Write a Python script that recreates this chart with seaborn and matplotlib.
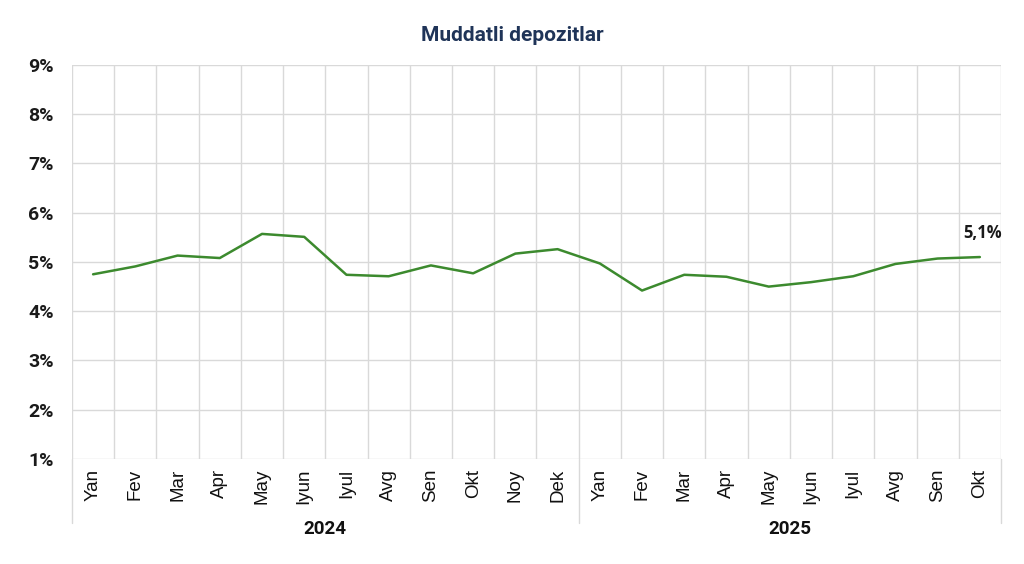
import matplotlib
matplotlib.use("Agg")
import matplotlib.pyplot as plt
import matplotlib.transforms as mtransforms
import seaborn as sns
import pandas as pd

# Term deposit rates, monthly
months = ["Yan", "Fev", "Mar", "Apr", "May", "Iyun", "Iyul", "Avg", "Sen", "Okt", "Noy", "Dek",
          "Yan", "Fev", "Mar", "Apr", "May", "Iyun", "Iyul", "Avg", "Sen", "Okt"]
years = ["2024", "2025"]
year_counts = [12, 10]
rates = [4.75, 4.91, 5.13, 5.08, 5.57, 5.51, 4.74, 4.71, 4.93, 4.77, 5.17, 5.26,
         4.97, 4.42, 4.74, 4.70, 4.50, 4.59, 4.71, 4.96, 5.07, 5.10]
last_label = "5,1%"

df = pd.DataFrame({"idx": range(len(rates)), "rate": rates})

sns.set_style("white")
plt.rcParams["font.family"] = ["Roboto", "DejaVu Sans"]

fig = plt.figure(figsize=(10.24, 5.64), dpi=100)
ax = fig.add_axes([0.0703, 0.1862, 0.9072, 0.6986])

grid_c = "#d9d9d9"
sns.lineplot(data=df, x="idx", y="rate", ax=ax, color="#3c8a2e", linewidth=1.8)

ax.set_xlim(-0.5, len(rates) - 0.5)
ax.set_ylim(1, 9)
ax.set_yticks(range(1, 10))
ax.set_yticklabels([f"{v}%" for v in range(1, 10)], fontsize=14, fontweight="bold", color="#1a1a1a")
ax.set_xticks(range(len(months)))
ax.set_xticklabels(months, rotation=90, fontsize=13.5, family="Liberation Sans", color="#111111")
ax.tick_params(axis="x", length=0, pad=7)
ax.tick_params(axis="y", length=5, color=grid_c, pad=8)

# grid: horizontal at each percent, vertical between months
for v in range(1, 10):
    ax.axhline(v, color=grid_c, linewidth=1, zorder=0)
for b in range(len(months) + 1):
    ax.axvline(b - 0.5, color=grid_c, linewidth=1, zorder=0)
for s in ax.spines.values():
    s.set_visible(False)

ax.set_xlabel("")
ax.set_ylabel("")

# year group separators and labels below axis
trans = mtransforms.blended_transform_factory(ax.transData, ax.transAxes)
start = 0
bounds = [-0.5]
for yr, n in zip(years, year_counts):
    center = start + (n - 1) / 2
    ax.text(center, -0.178, yr, transform=trans, ha="center", va="center",
            fontsize=13.5, fontweight="bold", color="#111111")
    start += n
    bounds.append(start - 0.5)
for b in bounds:
    ax.plot([b, b], [0, -0.162], transform=trans, color=grid_c, linewidth=1, clip_on=False)

ax.annotate(last_label, (len(rates) - 1, rates[-1]), xytext=(2, 11), textcoords="offset points",
            ha="center", va="bottom", fontsize=12, fontweight="bold", family="Open Sans",
            color="#1a1a1a")

fig.text(0.5, 0.937, "Muddatli depozitlar", ha="center", va="center",
         fontsize=15, fontweight="bold", color="#1f3458")

fig.savefig("out.png", dpi=100, facecolor="white")
